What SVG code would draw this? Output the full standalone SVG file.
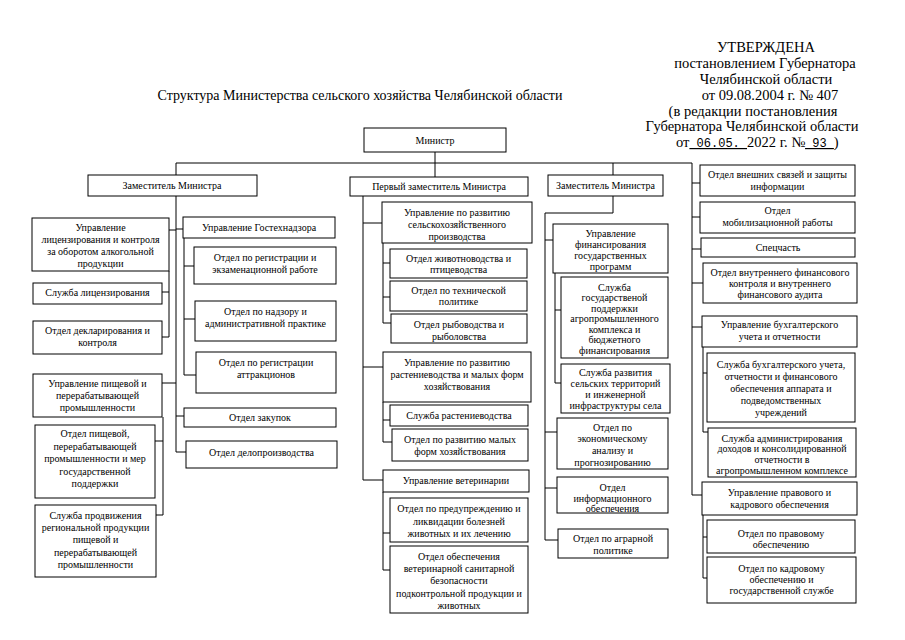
<svg xmlns="http://www.w3.org/2000/svg" width="905" height="640" viewBox="0 0 905 640">
<style>
.b{fill:#fff;stroke:#000;stroke-width:1}
.t{font-family:"Liberation Serif","Times New Roman",serif;font-size:10px;text-anchor:middle;fill:#000}
.h{font-family:"Liberation Serif","Times New Roman",serif;font-size:14.5px;text-anchor:middle;fill:#000}
.m{font-family:"Liberation Mono","Courier New",monospace;font-size:12px;text-decoration:underline}
.c{stroke:#000;stroke-width:1;fill:none}
</style>
<rect width="905" height="640" fill="#fff"/>
<g id="header">
<text class="h" x="766" y="52">УТВЕРЖДЕНА</text>
<text class="h" x="765" y="68">постановлением Губернатора</text>
<text class="h" x="766" y="84">Челябинской области</text>
<text class="h" x="770" y="100">от 09.08.2004 г. № 407</text>
<text class="h" x="753" y="116">(в редакции постановления</text>
<text class="h" x="752" y="131">Губернатора Челябинской области</text>
<text class="h" x="676" y="147" style="text-anchor:start">от<tspan class="m">  06.05. </tspan>2022 г. №<tspan class="m"> 93    </tspan>)</text>
</g>
<g id="title"><text class="h" x="360" y="100" style="font-size:14px">Структура Министерства сельского хозяйства Челябинской области</text></g>

<g id="connectors" class="c">
<path d="M435 152V177M176 163H692"/>
<path d="M176 163V175M176 196V452M169 230H176M169 271V337M162 292H169M162 337H169"/>
<path d="M176 229H183M184 238V375M184 266H194M184 319H195M184 375H196M176 416H184M176 452H186"/>
<path d="M162 383H176M163 417V515M155 441H163M156 515H163"/>
<path d="M363 196V480M363 223H382M383 243V323M383 263H390M383 297H390M383 323H391"/>
<path d="M363 367H383M383 402V442M383 420H390M383 442H392M363 480H383M383 492V570M383 533H390M383 570H390"/>
<path d="M613 163V175M613 196V213H545V540M545 240H553M555 273V383M555 310H561M555 383H561M545 432H557M545 488H557M545 540H558"/>
<path d="M692 163V495H702M692 183H700M692 217H700M692 249H701M692 283H703M692 327H702M703 347V432M703 373H707M703 432H708M703 515V578M703 537H707M703 578H707"/>
</g>

<g id="minister"><rect class="b" x="364" y="128" width="142" height="24"/><text class="t" x="435" y="144">Министр</text></g>

<g id="dep1"><rect class="b" x="88" y="175" width="169" height="21"/><text class="t" x="172" y="189">Заместитель Министра</text></g>
<g id="n_lic"><rect class="b" x="32" y="218" width="137" height="53"/><text class="t" x="100.5"><tspan x="100.5" y="231">Управление</tspan><tspan x="100.5" y="243">лицензирования и контроля</tspan><tspan x="100.5" y="255">за оборотом алкогольной</tspan><tspan x="100.5" y="267">продукции</tspan></text></g>
<g id="n_lic1"><rect class="b" x="33" y="283" width="129" height="21"/><text class="t" x="97.5" y="296">Служба лицензирования</text></g>
<g id="n_lic2"><rect class="b" x="33" y="321" width="129" height="33"/><text class="t"><tspan x="97.5" y="334">Отдел декларирования и</tspan><tspan x="97.5" y="346">контроля</tspan></text></g>
<g id="n_gtn"><rect class="b" x="183" y="217" width="152" height="21"/><text class="t" x="259" y="231">Управление Гостехнадзора</text></g>
<g id="n_gtn1"><rect class="b" x="194" y="247" width="142" height="37"/><text class="t"><tspan x="265" y="261">Отдел по регистрации и</tspan><tspan x="265" y="273">экзаменационной работе</tspan></text></g>
<g id="n_gtn2"><rect class="b" x="195" y="301" width="141" height="40"/><text class="t"><tspan x="265.5" y="315">Отдел по надзору и</tspan><tspan x="265.5" y="327">административной практике</tspan></text></g>
<g id="n_gtn3"><rect class="b" x="196" y="352" width="140" height="41"/><text class="t"><tspan x="266" y="366">Отдел по регистрации</tspan><tspan x="266" y="378">аттракционов</tspan></text></g>
<g id="n_zak"><rect class="b" x="184" y="408" width="152" height="19"/><text class="t" x="260" y="421">Отдел закупок</text></g>
<g id="n_del"><rect class="b" x="186" y="441" width="151" height="27"/><text class="t" x="261.5" y="456">Отдел делопроизводства</text></g>
<g id="n_pish"><rect class="b" x="33" y="374" width="129" height="43"/><text class="t"><tspan x="97.5" y="387">Управление пищевой и</tspan><tspan x="97.5" y="399">перерабатывающей</tspan><tspan x="97.5" y="411">промышленности</tspan></text></g>
<g id="n_pish1"><rect class="b" x="35" y="425" width="120" height="73"/><text class="t"><tspan x="95" y="437">Отдел пищевой,</tspan><tspan x="95" y="449.5">перерабатывающей</tspan><tspan x="95" y="462">промышленности и мер</tspan><tspan x="95" y="474.5">государственной</tspan><tspan x="95" y="487">поддержки</tspan></text></g>
<g id="n_pish2"><rect class="b" x="35" y="505" width="121" height="72"/><text class="t"><tspan x="95.5" y="519">Служба продвижения</tspan><tspan x="95.5" y="531">региональной продукции</tspan><tspan x="95.5" y="543">пищевой и</tspan><tspan x="95.5" y="556">перерабатывающей</tspan><tspan x="95.5" y="568">промышленности</tspan></text></g>

<g id="dep_first"><rect class="b" x="350" y="177" width="178" height="19"/><text class="t" x="439" y="190">Первый заместитель Министра</text></g>
<g id="n_sh"><rect class="b" x="382" y="202" width="150" height="41"/><text class="t"><tspan x="457" y="216">Управление по развитию</tspan><tspan x="457" y="228">сельскохозяйственного</tspan><tspan x="457" y="240">производства</tspan></text></g>
<g id="n_sh1"><rect class="b" x="390" y="249" width="137" height="29"/><text class="t"><tspan x="458.5" y="262">Отдел животноводства и</tspan><tspan x="458.5" y="273">птицеводства</tspan></text></g>
<g id="n_sh2"><rect class="b" x="390" y="281" width="137" height="30"/><text class="t"><tspan x="458.5" y="294">Отдел по технической</tspan><tspan x="458.5" y="305">политике</tspan></text></g>
<g id="n_sh3"><rect class="b" x="391" y="314" width="136" height="29"/><text class="t"><tspan x="459" y="328">Отдел рыбоводства и</tspan><tspan x="459" y="340">рыболовства</tspan></text></g>
<g id="n_rast"><rect class="b" x="383" y="352" width="148" height="50"/><text class="t"><tspan x="457" y="366">Управление по развитию</tspan><tspan x="457" y="378">растениеводства и малых форм</tspan><tspan x="457" y="390">хозяйствования</tspan></text></g>
<g id="n_rast1"><rect class="b" x="390" y="405" width="138" height="21"/><text class="t" x="459" y="419">Служба растениеводства</text></g>
<g id="n_rast2"><rect class="b" x="392" y="429" width="136" height="32"/><text class="t"><tspan x="460" y="443">Отдел по развитию малых</tspan><tspan x="460" y="455">форм хозяйствования</tspan></text></g>
<g id="n_vet"><rect class="b" x="383" y="470" width="146" height="22"/><text class="t" x="456" y="484">Управление ветеринарии</text></g>
<g id="n_vet1"><rect class="b" x="390" y="498" width="138" height="44"/><text class="t"><tspan x="459" y="512">Отдел по предупреждению и</tspan><tspan x="459" y="525">ликвидации болезней</tspan><tspan x="459" y="537">животных и их лечению</tspan></text></g>
<g id="n_vet2"><rect class="b" x="390" y="546" width="138" height="67"/><text class="t"><tspan x="459" y="560">Отдел обеспечения</tspan><tspan x="459" y="572">ветеринарной санитарной</tspan><tspan x="459" y="584">безопасности</tspan><tspan x="459" y="597">подконтрольной продукции и</tspan><tspan x="459" y="609">животных</tspan></text></g>

<g id="dep3"><rect class="b" x="548" y="175" width="115" height="21"/><text class="t" x="605.5" y="189">Заместитель Министра</text></g>
<g id="n_fin"><rect class="b" x="553" y="224" width="115" height="49"/><text class="t"><tspan x="610.5" y="237">Управление</tspan><tspan x="610.5" y="248">финансирования</tspan><tspan x="610.5" y="259">государственных</tspan><tspan x="610.5" y="270">программ</tspan></text></g>
<g id="n_fin1"><rect class="b" x="561" y="277" width="107" height="81"/><text class="t"><tspan x="614.5" y="290.5">Служба</tspan><tspan x="614.5" y="301">государственой</tspan><tspan x="614.5" y="311.5">поддержки</tspan><tspan x="614.5" y="322">агропромышленного</tspan><tspan x="614.5" y="332.5">комплекса и</tspan><tspan x="614.5" y="343">бюджетного</tspan><tspan x="614.5" y="353.5">финансирования</tspan></text></g>
<g id="n_fin2"><rect class="b" x="561" y="364" width="109" height="49"/><text class="t"><tspan x="615.5" y="375.5">Служба развития</tspan><tspan x="615.5" y="386.5">сельских территорий</tspan><tspan x="615.5" y="397.5">и инженерной</tspan><tspan x="615.5" y="408.5">инфраструктуры села</tspan></text></g>
<g id="n_econ"><rect class="b" x="557" y="418" width="111" height="51"/><text class="t"><tspan x="612.5" y="430.5">Отдел по</tspan><tspan x="612.5" y="441.5">экономическому</tspan><tspan x="612.5" y="453.5">анализу и</tspan><tspan x="612.5" y="465.5">прогнозированию</tspan></text></g>
<g id="n_info"><rect class="b" x="557" y="477" width="111" height="36"/><text class="t"><tspan x="612.5" y="490.5">Отдел</tspan><tspan x="612.5" y="501.5">информационного</tspan><tspan x="612.5" y="511.5">обеспечения</tspan></text></g>
<g id="n_agr"><rect class="b" x="558" y="529" width="110" height="29"/><text class="t"><tspan x="613" y="541.5">Отдел по аграрной</tspan><tspan x="613" y="554">политике</tspan></text></g>

<g id="n_vs"><rect class="b" x="700" y="165" width="155" height="31"/><text class="t"><tspan x="777.5" y="178">Отдел внешних связей и защиты</tspan><tspan x="777.5" y="190">информации</tspan></text></g>
<g id="n_mob"><rect class="b" x="700" y="202" width="155" height="31"/><text class="t"><tspan x="777.5" y="214">Отдел</tspan><tspan x="777.5" y="226">мобилизационной работы</tspan></text></g>
<g id="n_spec"><rect class="b" x="701" y="238" width="154" height="19"/><text class="t" x="778" y="251">Спецчасть</text></g>
<g id="n_audit"><rect class="b" x="703" y="263" width="154" height="40"/><text class="t"><tspan x="780" y="276">Отдел внутреннего финансового</tspan><tspan x="780" y="287">контроля и внутреннего</tspan><tspan x="780" y="298">финансового аудита</tspan></text></g>
<g id="n_buh"><rect class="b" x="702" y="316" width="155" height="31"/><text class="t"><tspan x="779.5" y="328">Управление бухгалтерского</tspan><tspan x="779.5" y="340">учета и отчетности</tspan></text></g>
<g id="n_buh1"><rect class="b" x="707" y="353" width="148" height="69"/><text class="t"><tspan x="781" y="367.5">Служба бухгалтерского учета,</tspan><tspan x="781" y="379.5">отчетности и финансового</tspan><tspan x="781" y="391.5">обеспечения аппарата и</tspan><tspan x="781" y="404">подведомственных</tspan><tspan x="781" y="415.5">учреждений</tspan></text></g>
<g id="n_buh2"><rect class="b" x="708" y="428" width="148" height="49"/><text class="t"><tspan x="782" y="441.5">Служба администрирования</tspan><tspan x="782" y="452">доходов и консолидированной</tspan><tspan x="782" y="462.5">отчетности в</tspan><tspan x="782" y="473.5">агропромышленном комплексе</tspan></text></g>
<g id="n_prav"><rect class="b" x="702" y="482" width="155" height="33"/><text class="t"><tspan x="779.5" y="496">Управление правового и</tspan><tspan x="779.5" y="508">кадрового обеспечения</tspan></text></g>
<g id="n_prav1"><rect class="b" x="707" y="520" width="148" height="33"/><text class="t"><tspan x="781" y="536.5">Отдел по правовому</tspan><tspan x="781" y="547.5">обеспечению</tspan></text></g>
<g id="n_prav2"><rect class="b" x="707" y="557" width="149" height="46"/><text class="t"><tspan x="781.5" y="571.5">Отдел по кадровому</tspan><tspan x="781.5" y="582.5">обеспечению и</tspan><tspan x="781.5" y="593.5">государственной службе</tspan></text></g>
</svg>
